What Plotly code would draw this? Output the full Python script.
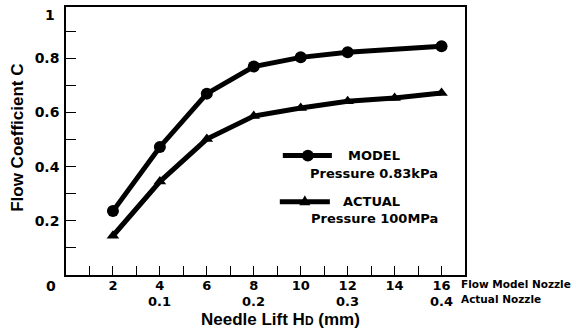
import plotly.graph_objects as go

# ---- data ----
model_x = [2, 4, 6, 8, 10, 12, 16]
model_c = [0.236, 0.473, 0.670, 0.770, 0.804, 0.823, 0.845]
actual_x = [2, 4, 6, 8, 10, 12, 14, 16]
actual_c = [0.145, 0.345, 0.502, 0.587, 0.617, 0.642, 0.654, 0.672]

x_tick_vals = list(range(1, 17))
x_tick_text = [str(v) if v % 2 == 0 else "" for v in x_tick_vals]
actual_tick_vals = [4, 8, 12, 16]
actual_tick_text = ["0.1", "0.2", "0.3", "0.4"]
y_tick_vals = [0.1, 0.2, 0.3, 0.4, 0.5, 0.6, 0.7, 0.8, 0.9]
y_tick_text = ["", "0.2", "", "0.4", "", "0.6", "", "0.8", ""]

# ---- layout geometry (pixels) ----
W, H = 571, 333
L, R, T, B = 66.4, 106, 5, 57.5
PW, PH = W - L - R, H - T - B


def px(x):
    return (x - L) / PW


def py(y):
    return (H - B - y) / PH


TICKF = dict(family="DejaVu Sans", size=14, color="black", weight="bold")
XTICKF = dict(family="DejaVu Sans", size=13, color="black", weight="bold")
TITLEF = dict(family="Liberation Sans", size=17, color="black", weight="bold")
YTITLEF = dict(family="Liberation Sans", size=17, color="black", weight="bold")
SMALLF = dict(family="DejaVu Sans", size=10.5, color="black", weight="bold")
LEGF = dict(family="DejaVu Sans", size=13, color="black", weight="bold")

fig = go.Figure()
fig.add_trace(go.Scatter(x=model_x, y=model_c, mode="lines+markers",
                         line=dict(color="black", width=5),
                         marker=dict(symbol="circle", size=12, color="black"),
                         showlegend=False))
fig.add_trace(go.Scatter(x=actual_x, y=actual_c, mode="lines+markers",
                         line=dict(color="black", width=5),
                         marker=dict(symbol="triangle-up", size=11, color="black"),
                         showlegend=False))

annotations = []
for v, t in zip(actual_tick_vals, actual_tick_text):
    annotations.append(dict(x=v, xref="x", y=py(302.5), yref="paper", text=t,
                            showarrow=False, font=XTICKF, xanchor="center", yanchor="middle"))

annotations += [
    dict(x=px(51.7), y=py(287), xref="paper", yref="paper", text="0", showarrow=False,
         font=TICKF, xanchor="center", yanchor="middle"),
    dict(x=px(50), y=py(13), xref="paper", yref="paper", text="1", showarrow=False,
         font=TICKF, xanchor="center", yanchor="middle"),
    dict(x=px(459), y=py(285), xref="paper", yref="paper", text="Flow Model Nozzle",
         showarrow=False, font=SMALLF, xanchor="left", yanchor="middle"),
    dict(x=px(459), y=py(299.5), xref="paper", yref="paper", text="Actual Nozzle",
         showarrow=False, font=SMALLF, xanchor="left", yanchor="middle"),
    dict(x=px(281), y=py(320.5), xref="paper", yref="paper",
         text="Needle Lift H<span style='font-size:12px'>D</span> (mm)",
         showarrow=False, font=TITLEF, xanchor="center", yanchor="middle"),
    dict(x=px(18.5), y=py(137), xref="paper", yref="paper", text="Flow Coefficient C",
         textangle=-90, showarrow=False, font=YTITLEF, xanchor="center", yanchor="middle"),
    # legend text
    dict(x=px(346), y=py(155), xref="paper", yref="paper", text="MODEL",
         showarrow=False, font=LEGF, xanchor="left", yanchor="middle"),
    dict(x=px(308), y=py(173), xref="paper", yref="paper", text="Pressure 0.83kPa",
         showarrow=False, font=LEGF, xanchor="left", yanchor="middle"),
    dict(x=px(341), y=py(201), xref="paper", yref="paper", text="ACTUAL",
         showarrow=False, font=LEGF, xanchor="left", yanchor="middle"),
    dict(x=px(309), y=py(218), xref="paper", yref="paper", text="Pressure 100MPa",
         showarrow=False, font=LEGF, xanchor="left", yanchor="middle"),
]

# legend keys
shapes = [
    dict(type="line", xref="paper", yref="paper", x0=px(283), x1=px(332), y0=py(155), y1=py(155),
         line=dict(color="black", width=5)),
    dict(type="circle", xref="paper", yref="paper", x0=px(302), x1=px(314), y0=py(149), y1=py(161),
         fillcolor="black", line=dict(color="black", width=0)),
    dict(type="line", xref="paper", yref="paper", x0=px(280), x1=px(330), y0=py(201.5), y1=py(201.5),
         line=dict(color="black", width=5)),
    dict(type="path", xref="paper", yref="paper",
         path=f"M {px(299.5)} {py(205)} L {px(310.5)} {py(205)} L {px(305)} {py(195)} Z",
         fillcolor="black", line=dict(color="black", width=0)),
]

fig.update_layout(
    width=W, height=H,
    margin=dict(l=L, r=R, t=T, b=B, pad=0),
    plot_bgcolor="white", paper_bgcolor="white",
    showlegend=False,
    annotations=annotations,
    shapes=shapes,
    xaxis=dict(range=[0, 17], tickvals=x_tick_vals, ticktext=x_tick_text,
               ticks="inside", ticklen=9, tickwidth=1.2, tickcolor="black",
               showline=True, linecolor="black", linewidth=1.5, mirror=True,
               showgrid=False, zeroline=False, tickfont=XTICKF, ticklabelstandoff=-2),
    yaxis=dict(range=[0, 0.99], tickvals=y_tick_vals, ticktext=y_tick_text,
               ticks="inside", ticklen=10, tickwidth=1.2, tickcolor="black",
               showline=True, linecolor="black", linewidth=1.5, mirror=True,
               showgrid=False, zeroline=False, tickfont=TICKF, ticklabelstandoff=2),
)

fig.write_html("out.html", config={"displayModeBar": False},
               post_script="document.body.style.margin='0';document.body.style.overflow='hidden';")
